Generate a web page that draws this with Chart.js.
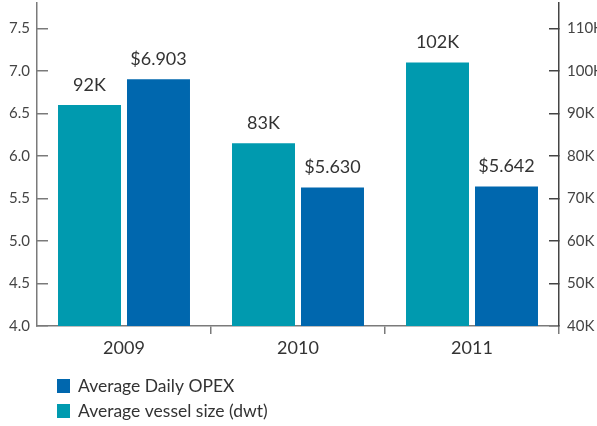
<!DOCTYPE html>
<html>
<head>
<meta charset="utf-8">
<script src="https://cdn.jsdelivr.net/npm/chart.js@4/dist/chart.umd.min.js"></script>
<style>
    html, body { margin: 0; padding: 0; background: #fff; }
    #wrap { width: 597px; height: 426px; }
</style>
</head>
<body>
<div id="wrap"><canvas id="chart"></canvas></div>
<script>
const years = ["2009", "2010", "2011"];

// average vessel size, thousand dwt (right axis)
const vesselSize = [92, 83, 102];
const vesselLabels = ["92K", "83K", "102K"];

// average daily opex, thousand USD (left axis)
const dailyOpex = [6.903, 5.630, 5.642];
const opexLabels = ["$6.903", "$5.630", "$5.642"];

const leftTicks = [4.0, 4.5, 5.0, 5.5, 6.0, 6.5, 7.0, 7.5];
const rightTicks = [40, 50, 60, 70, 80, 90, 100, 110];

const TEAL = "#009aaf";
const BLUE = "#0067ae";
const AXIS = "#7a7a7a";
const FONT = "Lato";

const barLabels = {
    id: "barLabels",
    afterDatasetsDraw(chart) {
        const ctx = chart.ctx;
        ctx.save();
        ctx.font = "18px " + FONT;
        ctx.fillStyle = "#333";
        ctx.textAlign = "center";
        ctx.textBaseline = "bottom";
        chart.data.datasets.forEach((ds, i) => {
            chart.getDatasetMeta(i).data.forEach((bar, j) => {
                ctx.fillText(ds.valueLabels[j], bar.x, bar.y - 11);
            });
        });
        ctx.restore();
    }
};

const stackedLegend = {
    id: "stackedLegend",
    afterDraw(chart) {
        const ctx = chart.ctx;
        const items = [chart.data.datasets[1], chart.data.datasets[0]];
        ctx.save();
        ctx.font = "17.5px " + FONT;
        ctx.textBaseline = "middle";
        items.forEach((ds, i) => {
            const y = 386 + i * 25;
            ctx.fillStyle = ds.backgroundColor;
            ctx.fillRect(57, y - 7, 13, 14);
            ctx.fillStyle = "#333";
            ctx.fillText(ds.label, 78, y);
        });
        ctx.restore();
    }
};

// y axes: drop the label padding Chart.js adds above and below the scale
function fixYScale(width) {
    return (s) => {
        s.width = width;
        s.paddingTop = 0;
        s.paddingBottom = 0;
    };
}

new Chart(document.getElementById("chart"), {
    type: "bar",

    data: {
        labels: years,

        datasets: [
            {
                label: "Average vessel size (dwt)",
                data: vesselSize,
                valueLabels: vesselLabels,
                backgroundColor: TEAL,
                yAxisID: "yRight",
                categoryPercentage: 0.793,
                barPercentage: 0.913
            },
            {
                label: "Average Daily OPEX",
                data: dailyOpex,
                valueLabels: opexLabels,
                backgroundColor: BLUE,
                yAxisID: "yLeft",
                categoryPercentage: 0.793,
                barPercentage: 0.913
            }
        ]
    },

    options: {
        responsive: true,
        maintainAspectRatio: false,
        animation: false,

        layout: {
            padding: { top: 3, bottom: 55, left: 0, right: 0 }
        },

        plugins: {
            legend: { display: false },
            tooltip: { enabled: false }
        },

        scales: {
            x: {
                afterFit(s) {
                    s.height = 45;
                    s.paddingLeft = 0;
                    s.paddingRight = 0;
                },
                border: { color: AXIS, width: 1.5 },
                grid: {
                    offset: true,
                    drawOnChartArea: false,
                    tickLength: 8,
                    lineWidth: 1.5,
                    color: (c) => (c.index === 0 || c.index === years.length)
                        ? "rgba(0,0,0,0)" : AXIS
                },
                ticks: {
                    padding: 3,
                    color: "#333",
                    font: { family: FONT, size: 18 }
                }
            },

            yLeft: {
                position: "left",
                min: 4.0,
                max: 7.8,
                afterFit: fixYScale(37),
                afterBuildTicks(s) {
                    s.ticks = leftTicks.map((v) => ({ value: v }));
                },
                border: { color: AXIS, width: 1.5 },
                grid: {
                    drawOnChartArea: false,
                    tickLength: -11,
                    lineWidth: 1.5,
                    color: AXIS
                },
                ticks: {
                    padding: 18,
                    color: "#444",
                    font: { family: FONT, size: 15 },
                    callback: (v) => v.toFixed(1)
                }
            },

            yRight: {
                position: "right",
                min: 40,
                max: 116,
                afterFit: fixYScale(38),
                afterBuildTicks(s) {
                    s.ticks = rightTicks.map((v) => ({ value: v }));
                },
                border: { color: "#444", width: 1.5 },
                grid: {
                    drawOnChartArea: false,
                    tickLength: -10,
                    lineWidth: 1.5,
                    color: "#444"
                },
                ticks: {
                    padding: 18,
                    color: "#444",
                    font: { family: FONT, size: 15 },
                    callback: (v) => v + "K"
                }
            }
        }
    },

    plugins: [barLabels, stackedLegend]
});
</script>
</body>
</html>
